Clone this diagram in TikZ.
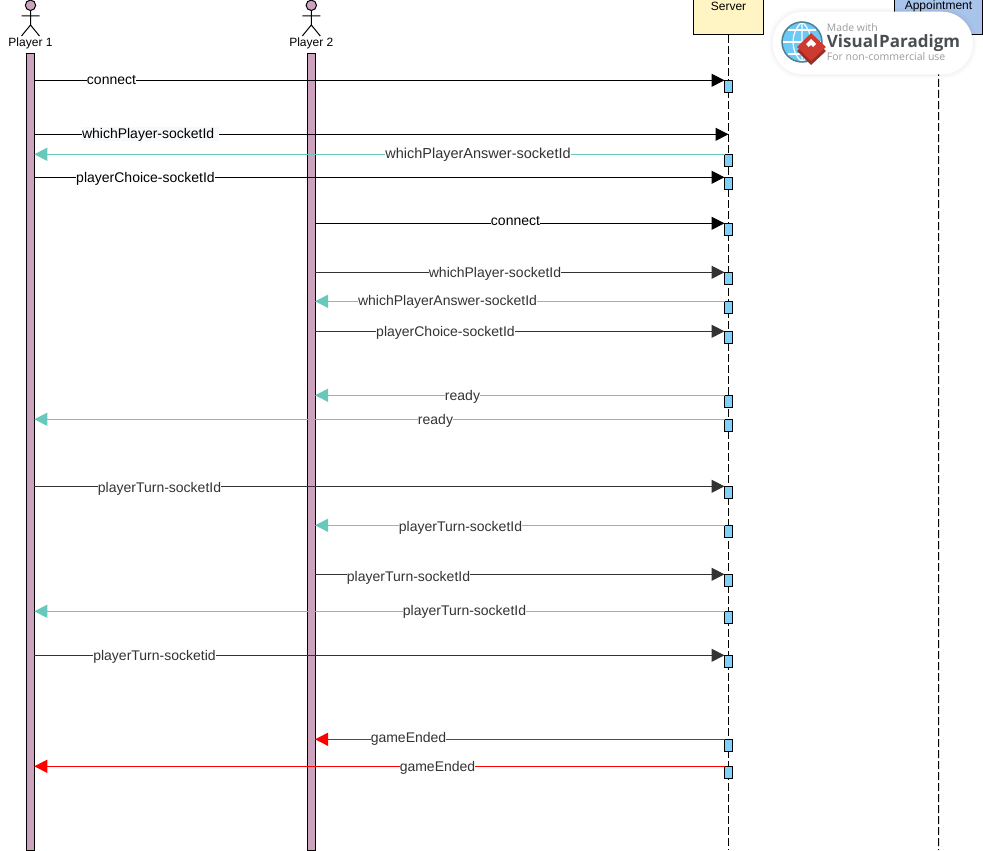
\documentclass[tikz,border=0pt]{standalone}
\usepackage{fontspec}
\setmainfont{Liberation Sans}
\newfontfamily\vpfont{Open Sans}
\usetikzlibrary{arrows.meta}
\definecolor{barfill}{HTML}{CDA2BE}
\definecolor{srvfill}{HTML}{FFF4C3}
\definecolor{appfill}{HTML}{A9C4EB}
\definecolor{actfill}{HTML}{7FD1F9}
\definecolor{tealA}{HTML}{67C8BB}
\definecolor{tealB}{HTML}{7CC0B6}
\definecolor{dark}{HTML}{333333}
\definecolor{paper}{HTML}{F8F9FA}
\definecolor{vpgray}{HTML}{4A4F52}
\definecolor{vplight}{HTML}{9A9C9E}
\definecolor{vpred}{HTML}{CF3A30}
\definecolor{vpglobe}{HTML}{6CC8F4}
\definecolor{vpring}{HTML}{4F8294}
\tikzset{
  x=1pt,y=-1pt,
  bar/.style={draw=black,fill=barfill,line width=1pt,minimum width=7.5pt,minimum height=797pt,inner sep=0,outer sep=0},
  head/.style={draw=black,line width=1pt,inner sep=0,outer sep=0,minimum height=36pt},
  act/.style={draw=black,fill=actfill,line width=1pt,minimum width=8pt,minimum height=12pt,inner sep=0,outer sep=0},
  life/.style={line width=1pt,dash pattern=on 8pt off 3pt},
  figure/.style={line width=1pt,draw=black},
  actorname/.style={font=\fontsize{12}{14}\selectfont,inner sep=0},
  tipk/.style={-{Triangle[length=13pt,width=13pt]}},
  tipt/.style={-{Triangle[length=13pt,width=13pt,color=tealA]}},
  msgk/.style={tipk,draw=black,line width=1pt},
  msgd/.style={tipk,draw=dark,line width=1pt},
  msgt/.style={tipt,draw=tealA,line width=1pt},
  msgu/.style={tipt,draw=tealB,line width=1pt},
  msgr/.style={tipk,draw=red,line width=1pt},
  lab/.style={anchor=base,fill=white,inner sep=0,text height=11pt,text depth=3pt,font=\fontsize{14}{16}\selectfont,text=dark},
  labk/.style={lab,text=black},
}
\begin{document}
\begin{tikzpicture}
\useasboundingbox (0,0) rectangle (983,851);
% lifelines
\node[head,fill=srvfill,minimum width=70pt,anchor=north west] (srv) at (693.5,-1) {};
\node[head,fill=appfill,minimum width=88.5pt,anchor=north west] (app) at (894.3,-1) {};
\node[actorname] (srvt) at (728.5,6.5) {Server};
\node[actorname] (appt) at (938.5,6.5) {Appointment};
\coordinate (srvend) at (728.5,850);
\coordinate (append) at (938.5,850);
\draw[life] (srv.south) -- (srvend);
\draw[life] (app.south) -- (append);
% actors
\node[bar,anchor=north] (p1) at (30.5,53.5) {};
\node[bar,anchor=north] (p2) at (311.3,53.5) {};
\foreach \c/\n/\t in {30.5/a/Player 1,311.3/b/Player 2}{
  \draw[figure,fill=barfill] (\c,5.3) circle (5.2);
  \draw[figure] (\c,10.5) -- (\c,25) (\c-9,16) -- (\c+9,16) (\c-9,36) -- (\c,25) -- (\c+9,36);
  \node[actorname] (name\n) at (\c,43) {\t};
}
% activations
\foreach \n/\y in {s1/80.3,s3/154.3,s4/177.3,s5/223.3,s6/272.3,s7/301.3,s8/331.3,s9/395.3,s10/419.3,s11/486.3,s12/525.3,s13/574.3,s14/611.3,s15/655.3,s16/739.3,s17/766.3}{
  \node[act,anchor=north] (\n) at (728.5,\y) {};
}
\coordinate (w1) at (728.5,134.3);
% messages
\draw[msgk] (p1.east |- s1.north) -- (s1.north west);
\draw[msgk] (p1.east |- w1) -- (w1);
\draw[msgt] (s3.north west) -- (p1.east |- s3.north);
\draw[msgk] (p1.east |- s4.north) -- (s4.north west);
\draw[msgk] (p2.east |- s5.north) -- (s5.north west);
\draw[msgd] (p2.east |- s6.north) -- (s6.north west);
\draw[msgu] (s7.north west) -- (p2.east |- s7.north);
\draw[msgd] (p2.east |- s8.north) -- (s8.north west);
\draw[msgu] (s9.north west) -- (p2.east |- s9.north);
\draw[msgu] (s10.north west) -- (p1.east |- s10.north);
\draw[msgd] (p1.east |- s11.north) -- (s11.north west);
\draw[msgu] (s12.north west) -- (p2.east |- s12.north);
\draw[msgd] (p2.east |- s13.north) -- (s13.north west);
\draw[msgu] (s14.north west) -- (p1.east |- s14.north);
\draw[msgd] (p1.east |- s15.north) -- (s15.north west);
\draw[msgr] (s16.north west) -- (p2.east |- s16.north);
\draw[msgr] (s17.north west) -- (p1.east |- s17.north);
% labels
\node[labk] (l1) at (111.5,84.7) {connect};
\node[labk,fill=paper,text width=137pt,align=left] (l2) at (150.5,138) {whichPlayer-socketId};
\node[lab,font=\fontsize{14.5}{16}\selectfont] (l3) at (478,158.7) {whichPlayerAnswer-socketId};
\node[labk] (l4) at (145.5,182.5) {playerChoice-socketId};
\node[labk] (l5) at (515.5,225.2) {connect};
\node[lab] (l6) at (495,277.2) {whichPlayer-socketId};
\node[lab] (l7) at (447.5,305.5) {whichPlayerAnswer-socketId};
\node[lab] (l8) at (445.5,336.5) {playerChoice-socketId};
\node[lab] (l9) at (462.5,400.5) {ready};
\node[lab] (l10) at (435.5,424.8) {ready};
\node[lab] (l11) at (159.5,492) {playerTurn-socketId};
\node[lab] (l12) at (460.5,531.2) {playerTurn-socketId};
\node[lab] (l13) at (408.5,581) {playerTurn-socketId};
\node[lab] (l14) at (464.5,615.3) {playerTurn-socketId};
\node[lab] (l15) at (154.5,660.3) {playerTurn-socketid};
\node[lab] (l16) at (408.5,742.3) {gameEnded};
\node[lab] (l17) at (437.5,771.3) {gameEnded};
% watermark
\foreach \e in {4,3,2,1}{
  \fill[black,opacity=0.012,rounded corners=33pt] (772.7-\e,11.7-\e) rectangle (972.7+\e,74.5+\e);
}
\fill[white,rounded corners=31pt] (772.7,11.7) rectangle (972.7,74.5);
\begin{scope}
  \fill[vpglobe] (802,42) circle (20);
  \draw[white,line width=1.2pt] (782,42) -- (822,42) (788,30) -- (816,30) (788,54) -- (816,54);
  \draw[white,line width=1.2pt] (802,22) -- (802,62) (802,22) .. controls (790,32) and (790,52) .. (802,62) (802,22) .. controls (814,32) and (814,52) .. (802,62);
  \draw[vpring,line width=1.5pt] (802,42) circle (20);
  \fill[vpred!75!black] (797,51) -- (811,37) -- (826,51) -- (811,65) -- cycle;
  \fill[vpred] (797,47) -- (811,33) -- (826,47) -- (811,61) -- cycle;
  \fill[white] (806,44) -- (811,39) -- (816,44) -- (813,47) -- (811,45) -- (808.5,47) -- cycle;
\end{scope}
\node[anchor=base west,inner sep=0,text=vplight,font=\vpfont\fontsize{10.4}{12}\selectfont] (vp1) at (826.7,32) {Made with};
\node[anchor=base west,inner sep=0,text=vpgray,font=\vpfont\bfseries\fontsize{17}{20}\selectfont] (vp2) at (826.7,47.7) {Visual\kern1pt Paradigm};
\node[anchor=base west,inner sep=0,text=vplight,font=\vpfont\fontsize{10.5}{12}\selectfont] (vp3) at (826.7,61) {For non-commercial use};
\end{tikzpicture}
\end{document}
